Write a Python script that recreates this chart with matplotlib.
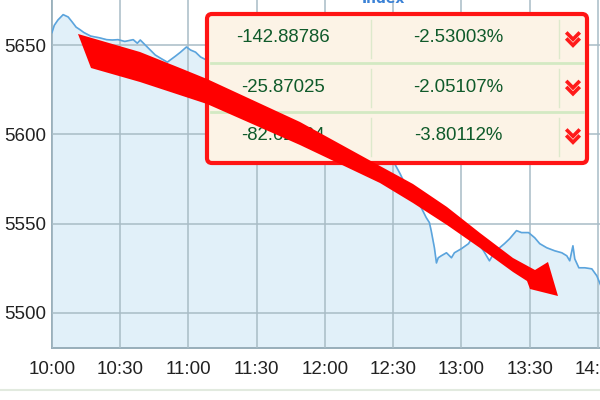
import matplotlib
matplotlib.use("Agg")
import matplotlib.pyplot as plt
from matplotlib.patches import Polygon, FancyBboxPatch
from matplotlib.lines import Line2D

# index curve, minutes after 10:00 and index level
minutes = [0, 1, 2.6, 4.9, 7.1, 8.8, 10.6, 12.4, 14, 17, 21, 24, 26.5, 29, 32, 35.7,
           37.5, 38.8, 41, 43.2, 45.4, 47.6, 50.7, 54.3, 56.5, 59.1, 60.9, 63.1, 65.3,
           67.9, 72, 80, 90, 100, 110, 120, 130, 140, 146, 150, 153, 156, 158.5,
           160.1, 162.3, 164.5, 165.9, 166.7, 168.1, 169, 169.8, 171.1, 173.4, 175.6,
           176.9, 180, 183.1, 185.3, 187.5, 189.7, 192.3, 194.1, 196.3, 198.9, 201.2,
           204.2, 206.4, 209.5, 212.2, 214.4, 217.5, 221, 224.1, 226.3, 227.6, 229,
           229.8, 231.6, 234.2, 237.3, 239.5, 241.7]
index = [5657, 5661, 5664, 5667, 5665.7, 5663, 5660, 5658.5, 5657, 5655, 5654, 5653,
         5652.8, 5653, 5652, 5653, 5651, 5652.8, 5650, 5647.2, 5644.4, 5642.7, 5640.4,
         5643.8, 5646, 5648.9, 5647.2, 5646, 5643.3, 5641.6, 5640, 5637, 5633, 5628,
         5624, 5618, 5610, 5600, 5592, 5585, 5578, 5570, 5566,
         5563, 5559, 5553.4, 5550.6, 5546, 5536.5, 5528, 5530.9, 5532, 5533.7, 5530.9,
         5533.7, 5536, 5538.8, 5543.3, 5538.8, 5534.8, 5529.2, 5533.1, 5536, 5538.8,
         5541.6, 5546.1, 5545, 5545, 5542.1, 5538.8, 5536.5, 5534.8, 5533.7, 5532,
         5529.2, 5537.6, 5530.3, 5525.3, 5525.3, 5524.7, 5520.8, 5514]

tick_minutes = [0, 30, 60, 90, 120, 150, 180, 210, 240]
tick_labels = ["10:00", "10:30", "11:00", "11:30", "12:00", "12:30", "13:00", "13:30", "14:00"]
y_ticks = [5500, 5550, 5600, 5650]

# overlay table
changes = ["-142.88786", "-25.87025", "-82.62104"]
percents = ["-2.53003%", "-2.05107%", "-3.80112%"]

fig = plt.figure(figsize=(6, 4), dpi=100)
ax = fig.add_axes([52 / 600, 1 - 348 / 400, 548 / 600, 348 / 400])
ax.set_facecolor("white")

ax.fill_between(minutes, index, 5400, color="#e1f0f9", zorder=1)
ax.plot(minutes, index, color="#5ba4dd", lw=1.2, zorder=3)

ax.set_xlim(0, 240.9)
ax.set_ylim(5480.4, 5675.2)
ax.set_xticks(tick_minutes)
ax.set_xticklabels(tick_labels)
ax.set_yticks(y_ticks)
ax.grid(True, color="#a8bcc6", lw=1.1, zorder=2)
ax.set_axisbelow(False)
for s in ["top", "right"]:
    ax.spines[s].set_visible(False)
for s in ["left", "bottom"]:
    ax.spines[s].set_color("#98aeba")
    ax.spines[s].set_linewidth(1.4)
ax.tick_params(length=0, labelsize=13.5, labelcolor="#222222")
ax.tick_params(axis="y", pad=4)
ax.tick_params(axis="x", pad=9)
for lab in ax.get_xticklabels() + ax.get_yticklabels():
    lab.set_family(["Liberation Sans", "DejaVu Sans"])

T = fig.dpi_scale_trans


def px(x, y):
    return (x / 100, (400 - y) / 100)


# faint separator under the axis
fig.add_artist(Line2D([0, 6], [0.10, 0.10], transform=T, color="#e2eadf", lw=1.5))
fig.text(383 / 600, 1 + 1 / 400, "Index", color="#3b82d6", fontsize=10,
         fontweight="bold", ha="center", va="center")

# table box
x0, y0 = px(207, 163)
box = FancyBboxPatch((x0, y0), 3.80, 1.49, boxstyle="round,pad=0,rounding_size=0.05",
                     transform=T, facecolor="#fcf3e6", edgecolor="#ff1414", lw=3, zorder=10)
fig.add_artist(box)
for yy in [63, 112]:
    fig.add_artist(Line2D(*zip(px(211, yy), px(583, yy)), transform=T,
                          color="#d3e9c3", lw=2, zorder=11))
for i in range(3):
    top = 16 + i * 49
    for xx in [371, 559]:
        fig.add_artist(Line2D(*zip(px(xx, top + 4), px(xx, top + 42)), transform=T,
                              color="#dde9cc", lw=1, zorder=11))
    cy = 38 + i * 49
    fig.text(*px(283, cy), changes[i], transform=T, ha="center", va="center",
             fontsize=13.4, color="#0f5a2a", family="Liberation Sans", zorder=12)
    fig.text(*px(458, cy), percents[i], transform=T, ha="center", va="center",
             fontsize=13.4, color="#0f5a2a", family="Liberation Sans", zorder=12)
    cc = 40 + i * 48.5
    for dy in [-3.5, 2.5]:
        pts = [px(567.5, cc + dy - 2.8), px(573, cc + dy + 2.8), px(578.5, cc + dy - 2.8)]
        fig.add_artist(Line2D(*zip(*pts), transform=T, color="#ff1a1a", lw=2.6,
                              solid_joinstyle="miter", zorder=12))

# big red arrow
upper = [(78, 34), (140, 52), (180, 68), (207, 79), (300, 122), (380, 166), (413, 184),
         (447, 207), (480, 233), (513, 258), (535, 270)]
head = [(548, 262), (558, 296), (530, 289)]
lower = [(527, 281), (513, 272), (480, 248), (447, 225), (413, 203), (380, 183),
         (300, 145), (207, 104), (140, 82), (91, 68)]
arrow = Polygon([px(*p) for p in upper + head + lower], closed=True, transform=T,
                facecolor="#ff0000", edgecolor="none", zorder=20)
fig.add_artist(arrow)

fig.savefig("out.png", dpi=100)
